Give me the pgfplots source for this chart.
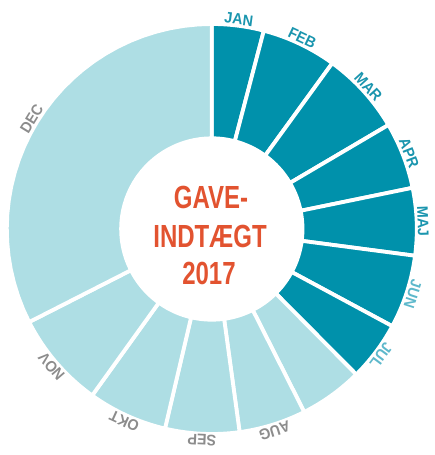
\documentclass[border=0pt]{standalone}
\usepackage{pgfplots}
\pgfplotsset{compat=1.18}
\usepackage{pgfplotstable}
\usepackage{fontspec}
\setmainfont{Liberation Sans}
\definecolor{dark}{RGB}{0,145,171}
\definecolor{light}{RGB}{174,222,228}
\definecolor{labdark}{RGB}{26,149,174}
\definecolor{labmid}{RGB}{93,184,203}
\definecolor{labgrey}{RGB}{140,140,140}
\definecolor{titlered}{RGB}{226,83,48}

% segment sizes in degrees of the ring (sum = 360)
\pgfplotstableread{
label value fc lc
JAN 14.7 dark labdark
FEB 21.3 dark labdark
MAR 23.5 dark labdark
APR 18.9 dark labdark
MAJ 19.1 dark labdark
JUN 20.8 dark labmid
JUL 16.9 dark labmid
{} 18.0 light labgrey
AUG 19.0 light labgrey
SEP 21.0 light labgrey
OKT 22.5 light labgrey
NOV 27.3 light labgrey
DEC 117.0 light labgrey
}\gifts

\def\cx{211.8}
\def\cy{226}
\def\ro{205.0}
\def\ri{90.7}
\def\rl{206}
\newcommand\labfont{\fontsize{15.4}{16}\selectfont\bfseries}
\newcommand\lab[1]{\scalebox{0.93}[1]{\labfont #1}}
\newcommand\ttl[1]{\scalebox{0.75}[1]{\fontsize{32}{32}\selectfont\bfseries #1}}

\begin{document}
\begin{tikzpicture}
\begin{axis}[hide axis, scale only axis, width=434pt, height=455pt,
  xmin=0, xmax=434, ymin=0, ymax=455, clip=false]
\pgfplotstablegetrowsof{\gifts}
\pgfmathtruncatemacro\nrows{\pgfplotsretval-1}
\gdef\cum{0}
\pgfplotsforeachungrouped \i in {0,...,\nrows}{%
  \pgfplotstablegetelem{\i}{value}\of\gifts \let\val\pgfplotsretval
  \pgfplotstablegetelem{\i}{fc}\of\gifts \let\fc\pgfplotsretval
  \pgfplotstablegetelem{\i}{lc}\of\gifts \let\lc\pgfplotsretval
  \pgfplotstablegetelem{\i}{label}\of\gifts \let\lb\pgfplotsretval
  \pgfmathsetmacro\a{\cum}%
  \pgfmathsetmacro\b{\cum+\val}%
  \xdef\cum{\b}%
  \gdef\coords{}%
  \foreach \k in {0,...,30}{%
    \pgfmathsetmacro\ang{\a+(\b-\a)*\k/30}%
    \pgfmathsetmacro\px{\cx+\ro*sin(\ang)}%
    \pgfmathsetmacro\py{\cy+\ro*cos(\ang)}%
    \xdef\coords{\coords (\px,\py)}%
  }%
  \foreach \k in {30,...,0}{%
    \pgfmathsetmacro\ang{\a+(\b-\a)*\k/30}%
    \pgfmathsetmacro\px{\cx+\ri*sin(\ang)}%
    \pgfmathsetmacro\py{\cy+\ri*cos(\ang)}%
    \xdef\coords{\coords (\px,\py)}%
  }%
  \edef\tmp{\noexpand\addplot[fill=\fc, draw=white, line width=3.8pt, line join=miter] coordinates {\coords} -- cycle;}%
  \tmp
  \pgfmathsetmacro\m{(\a+\b)/2}%
  \pgfmathsetmacro\lx{\cx+\rl*sin(\m)}%
  \pgfmathsetmacro\ly{\cy+\rl*cos(\m)}%
  \edef\tmp{\noexpand\node[anchor=base, rotate=-\m, text=\lc, inner sep=0pt] at (axis cs:\lx,\ly) {\noexpand\lab{\lb}};}%
  \tmp
}
\node[anchor=base, text=titlered, inner sep=0pt] at (axis cs:211,246.7) {\ttl{GAVE-}};
\node[anchor=base, text=titlered, inner sep=0pt] at (axis cs:210,207.7) {\ttl{INDTÆGT}};
\node[anchor=base, text=titlered, inner sep=0pt] at (axis cs:209,170) {\ttl{2017}};
\end{axis}
\pgfresetboundingbox
\path (current axis.south west) rectangle (current axis.north east);
\end{tikzpicture}
\end{document}
